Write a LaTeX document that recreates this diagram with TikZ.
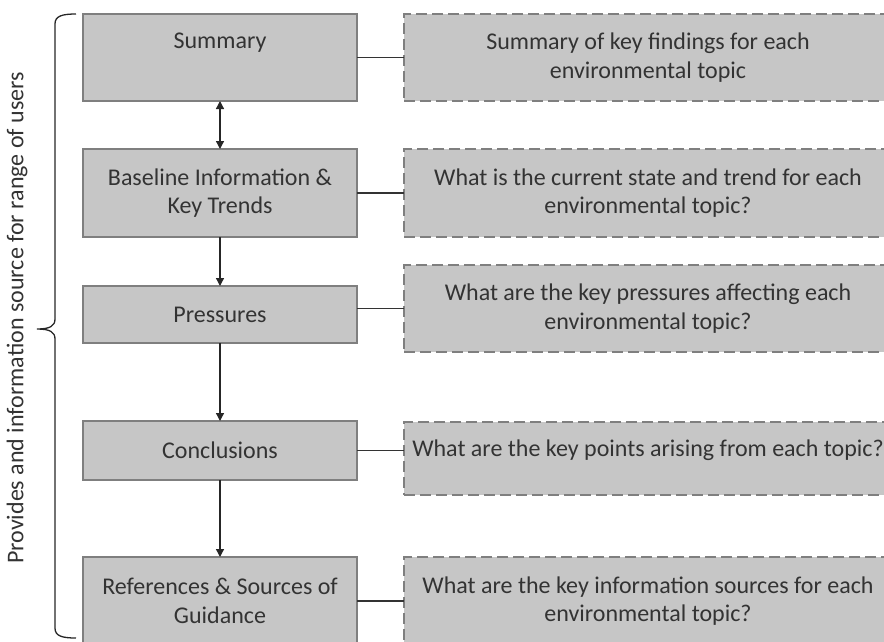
\documentclass[tikz,border=0pt]{standalone}
\usepackage{fontspec}
\setmainfont{Carlito}
\usetikzlibrary{arrows.meta}
\definecolor{boxfill}{HTML}{C6C6C6}
\definecolor{boxline}{HTML}{7F7F7F}
\definecolor{txtcol}{HTML}{333333}
\begin{document}
\begin{tikzpicture}[x=1pt,y=-1pt,
  boxL/.style={draw=boxline,fill=boxfill,line width=1.8pt,minimum width=274pt,inner sep=0pt,outer sep=0pt,
    text=txtcol,align=center,font=\fontsize{24}{28.5}\selectfont},
  boxR/.style={draw=boxline,fill=boxfill,line width=1.6pt,dash pattern=on 11pt off 5pt,minimum width=488pt,inner sep=0pt,outer sep=0pt,
    text=txtcol,align=center,font=\fontsize{24}{28.5}\selectfont},
  txt/.style={text=txtcol,align=center,font=\fontsize{24}{28.5}\selectfont,inner sep=0pt},
  conn/.style={draw=black!80,line width=1.3pt},
  arr/.style={draw=black!85,line width=1.3pt,-{Triangle[width=8pt,length=8pt]}},
  darr/.style={draw=black!85,line width=1.3pt,{Triangle[width=8pt,length=8pt]}-{Triangle[width=8pt,length=8pt]}}
]
\useasboundingbox (0,0) rectangle (884,641);
\clip (0,0) rectangle (884,641);
% left boxes
\node[boxL,minimum height=87pt] (sl) at (220,57.5) {};
\node[txt] (slt) at (220,43) {Summary};
\node[boxL,minimum height=88pt] (bl) at (220,193) {Baseline Information \&\\Key Trends};
\node[boxL,minimum height=57pt] (pl) at (220,314.5) {Pressures};
\node[boxL,minimum height=59pt] (cl) at (220,450.5) {Conclusions};
\node[boxL,minimum height=88pt] (rl) at (220,601) {References \& Sources of\\Guidance};
% right boxes
\node[boxR,minimum height=87pt] (sr) at (648,57.5) {Summary of key findings for each\\environmental topic};
\node[boxR,minimum height=88pt] (br) at (648,193) {What is the current state and trend for each\\environmental topic?};
\node[boxR,minimum height=87pt] (pr) at (648,308.5) {What are the key pressures affecting each\\environmental topic?};
\node[boxR,minimum height=73pt] (cr) at (648,458.5) {};
\node[txt] (crt) at (648,450) {What are the key points arising from each topic?};
\node[boxR,minimum height=88pt] (rr) at (648,601) {What are the key information sources for each\\environmental topic?};
% connectors
\draw[conn] (sl.east) -- (sr.west);
\draw[conn] (bl.east) -- (br.west);
\draw[conn] (pl.east |- pr.west) -- (pr.west);
\draw[conn] (cl.east) -- (cl.east -| cr.west);
\draw[conn] (rl.east) -- (rr.west);
% arrows
\draw[darr] (sl.south) -- (bl.north);
\draw[arr] (bl.south) -- (pl.north);
\draw[arr] (pl.south) -- (cl.north);
\draw[arr] (cl.south) -- (rl.north);
% brace
\draw[draw=black!85,line width=1.3pt] (76,14) .. controls (62,14) and (55,16) .. (55,24) -- (55,319)
  .. controls (55,326) and (50,329) .. (37,329) .. controls (50,329) and (55,332) .. (55,339)
  -- (55,628) .. controls (55,636) and (62,638) .. (76,638);
\node[txt,rotate=90] (side) at (17,318) {Provides and information source for range of users};
\end{tikzpicture}
\end{document}
